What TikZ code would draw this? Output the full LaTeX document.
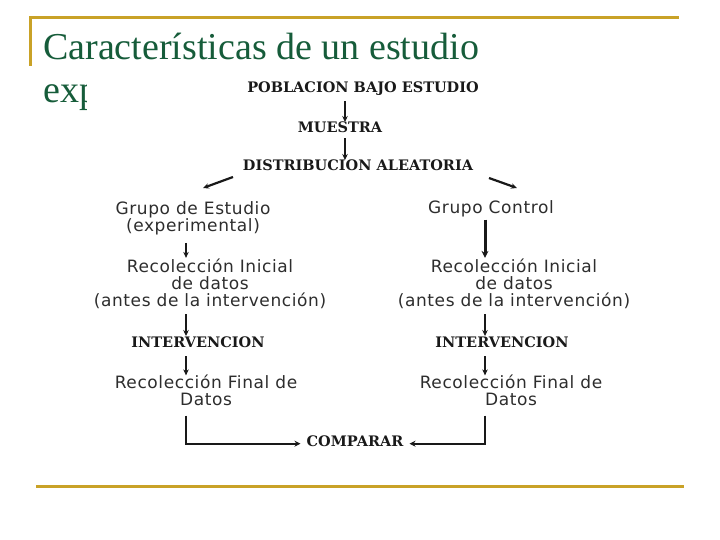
\documentclass[tikz,border=0pt]{standalone}
\usepackage{fontspec}
\setmainfont{Liberation Serif}
\newfontfamily\capsfont{DejaVu Serif}
\newfontfamily\handfont[LetterSpace=3.5]{DejaVu Sans}
\usetikzlibrary{arrows.meta,calc}
\definecolor{gold}{RGB}{201,162,39}
\definecolor{titlegreen}{RGB}{22,92,58}
\definecolor{ink}{RGB}{25,25,25}
\definecolor{inkb}{RGB}{45,45,45}
\begin{document}
\begin{tikzpicture}[x=1pt,y=-1pt,
  capslabel/.style={font=\capsfont\bfseries\fontsize{14.5}{17}\selectfont, text=ink, inner sep=0pt},
  handlabel/.style={font=\handfont\fontsize{17}{17}\selectfont, text=inkb, inner sep=0pt, align=center},
  titletext/.style={font=\fontsize{38}{42}\selectfont, text=titlegreen, inner sep=0pt, anchor=base west},
  arr/.style={draw=ink, line width=1.6pt, -{Stealth[length=6pt,width=5.5pt]}},
  thickarr/.style={draw=ink, line width=3pt, -{Stealth[length=7pt,width=7pt]}},
  joinarr/.style={draw=ink, line width=2.2pt, -{Stealth[length=6pt,width=6pt]}},
  goldline/.style={draw=gold, line width=3pt}
]
\useasboundingbox (0,0) rectangle (720,540);
% slide frame
\draw[goldline] (29,18) -- (679,18);
\draw[goldline] (30,18) -- (30,66);
\draw[goldline] (36,486) -- (684,486);
% title
\node[titletext] (title) at (43,60) {Características de un estudio};
\begin{scope}
  \clip (35,68) rectangle (86,125);
  \node[titletext] (title2) at (43,103) {experimental};
\end{scope}
% column guide coordinates
\coordinate (colL) at (186,0);
\coordinate (colR) at (485,0);
\coordinate (colM) at (345,0);
% nodes
\node[capslabel, anchor=base] (pob) at (363,93) {POBLACION BAJO ESTUDIO};
\node[capslabel, anchor=base] (mue) at (340,133) {MUESTRA};
\node[capslabel, anchor=base] (dist) at (358,171) {DISTRIBUCION ALEATORIA};
\node[handlabel] (gE) at (193,218) {Grupo de Estudio\\(experimental)};
\node[handlabel, anchor=base] (gC) at (491,214) {Grupo Control};
\node[handlabel] (rIL) at (210,284) {Recolección Inicial\\de datos\\(antes de la intervención)};
\node[handlabel] (rIR) at (514,284) {Recolección Inicial\\de datos\\(antes de la intervención)};
\node[capslabel, anchor=base] (intL) at (198,347) {INTERVENCION};
\node[capslabel, anchor=base] (intR) at (502,347) {INTERVENCION};
\node[handlabel] (fL) at (206,390) {Recolección Final de\\Datos};
\node[handlabel] (fR) at (511,390) {Recolección Final de\\Datos};
\node[capslabel, anchor=base] (comp) at (355,446) {COMPARAR};
% diagonal arrow end points
\coordinate (dLs) at (233,177);
\coordinate (dLe) at (203,188);
\coordinate (dRs) at (489,178);
\coordinate (dRe) at (517,188);
% connectors
\draw[arr] ([yshift=-5pt]pob.south -| colM) -- (mue.north -| colM);
\draw[arr] ([yshift=-5pt]mue.south -| colM) -- (dist.north -| colM);
\draw[arr, line width=2.2pt] (dLs) -- (dLe);
\draw[arr, line width=2.2pt] (dRs) -- (dRe);
\draw[arr] ([yshift=-8pt]gE.south -| colL) -- ([yshift=1pt]rIL.north -| colL);
\draw[arr] ([yshift=-5pt]rIL.south -| colL) -- (intL.north -| colL);
\draw[arr] ([yshift=-9pt]intL.south -| colL) -- ([yshift=-1pt]fL.north -| colL);
\draw[thickarr] ([yshift=-2pt]gC.south -| colR) -- ([yshift=1pt]rIR.north -| colR);
\draw[arr] ([yshift=-5pt]rIR.south -| colR) -- (intR.north -| colR);
\draw[arr] ([yshift=-9pt]intR.south -| colR) -- ([yshift=-1pt]fR.north -| colR);
\draw[joinarr] ([yshift=-10pt]fL.south -| colL) |- ([xshift=-6pt,yshift=-3pt]comp.west);
\draw[joinarr] ([yshift=-10pt]fR.south -| colR) |- ([xshift=6pt,yshift=-3pt]comp.east);
\end{tikzpicture}
\end{document}
